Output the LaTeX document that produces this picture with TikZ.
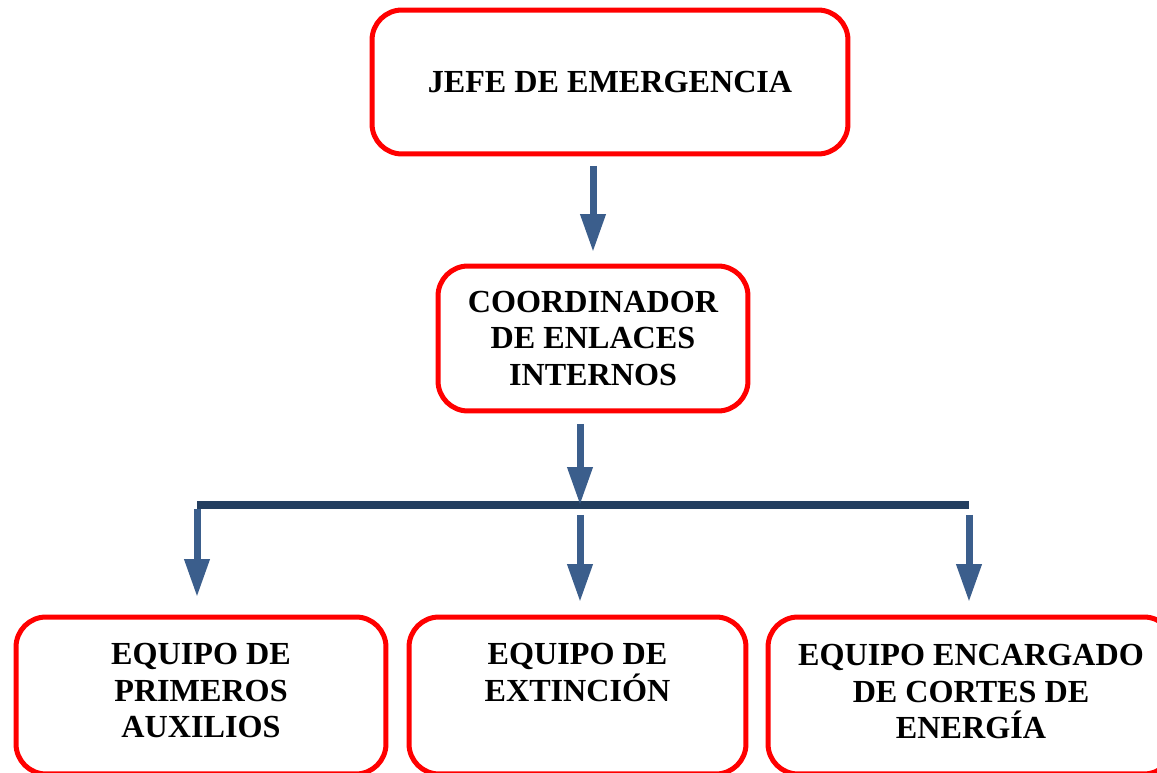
\documentclass[tikz,border=0pt]{standalone}
\usepackage{fontspec}
\setmainfont{Liberation Serif}
\usetikzlibrary{arrows.meta}
\definecolor{rojo}{HTML}{FF0000}
\definecolor{flechaazul}{HTML}{3B5E8C}
\definecolor{barraazul}{HTML}{243F60}

\begin{document}
\begin{tikzpicture}[x=0.02cm, y=-0.02cm,
  caja/.style={draw=rojo, line width=0.1cm, rounded corners=0.6cm,
    inner sep=0pt, outer sep=0pt, align=center,
    font=\fontsize{18.3}{20.7}\selectfont\bfseries},
  texto/.style={inner sep=0pt, anchor=north, align=center,
    font=\fontsize{18.3}{20.7}\selectfont\bfseries},
  flecha/.style={draw=flechaazul, line width=0.14cm,
    -{Triangle[width=0.48cm, length=0.76cm]}},
  barra/.style={draw=barraazul, line width=0.16cm}
  ]
  \clip (0,0) rectangle (1157,773);
  % cajas
  \node[caja, minimum width=9.52cm, minimum height=2.88cm] (jefe) at (610,82)
    {JEFE DE EMERGENCIA};
  \node[caja, minimum width=6.2cm, minimum height=2.9cm] (coordinador) at (593,338.5)
    {COORDINADOR\\DE ENLACES\\INTERNOS};
  \node[caja, minimum width=7.4cm, minimum height=3.14cm] (auxilios) at (201,695.5) {};
  \node[caja, minimum width=6.74cm, minimum height=3.14cm] (extincion) at (577.5,695.5) {};
  \node[caja, minimum width=8.12cm, minimum height=3.14cm] (energia) at (971,695.5) {};
  \node[texto] (tauxilios) at (201,643) {EQUIPO DE\\PRIMEROS\\AUXILIOS};
  \node[texto] (textincion) at (577.5,643) {EQUIPO DE\\EXTINCIÓN};
  \node[texto] (tenergia) at (971,644) {EQUIPO ENCARGADO\\DE CORTES DE\\ENERGÍA};
  % barra
  \coordinate (barL) at (197,505);
  \coordinate (barM) at (580,505);
  \coordinate (barR) at (969,505);
  \draw[barra] (barL) -- (barR);
  % flechas
  \draw[flecha, shorten <=0.24cm, shorten >=0.28cm] (jefe.south -| coordinador.north) -- (coordinador.north);
  \draw[flecha, shorten <=0.26cm] (coordinador.south -| barM) -- (barM);
  \draw[flecha, shorten <=0.08cm, shorten >=0.4cm] (barL) -- (barL |- auxilios.north);
  \draw[flecha, shorten <=0.2cm, shorten >=0.3cm] (barM) -- (barM |- extincion.north);
  \draw[flecha, shorten <=0.2cm, shorten >=0.3cm] (barR) -- (barR |- energia.north);
\end{tikzpicture}
\end{document}
